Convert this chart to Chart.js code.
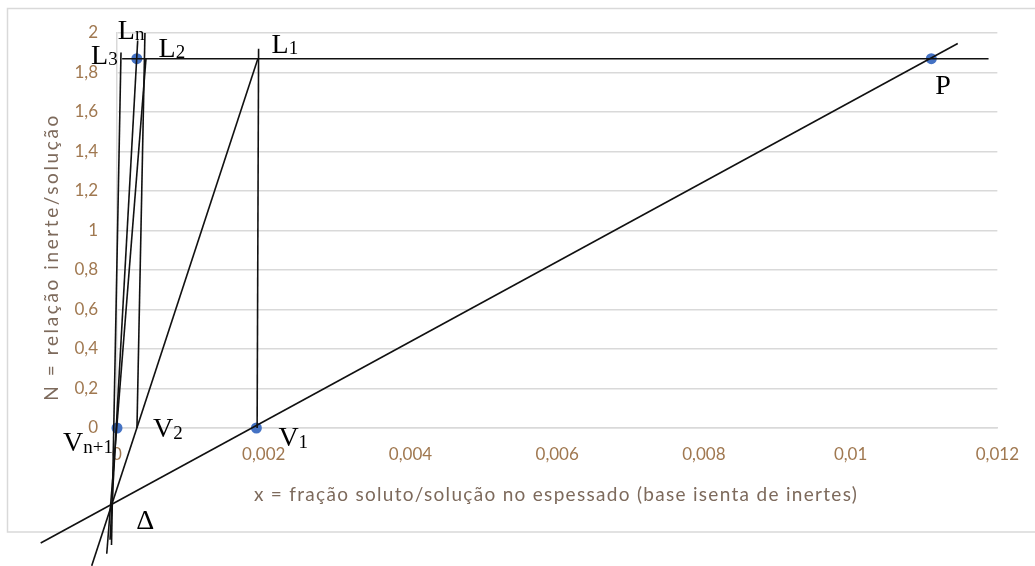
<!DOCTYPE html>
<html>
<head>
<meta charset="utf-8">
<script src="https://cdn.jsdelivr.net/npm/chart.js@4.4.1/dist/chart.umd.min.js"></script>
<style>
  html, body { margin: 0; padding: 0; background: #ffffff; }
  #wrap { width: 1035px; height: 566px; position: relative; }
</style>
</head>
<body>
<div id="wrap"><canvas id="chart" width="1035" height="566"></canvas></div>
<script>
// Axis ticks and their printed labels (decimal comma)
const xTicks = [0, 0.002, 0.004, 0.006, 0.008, 0.010, 0.012];
const xTickLabels = ['0', '0,002', '0,004', '0,006', '0,008', '0,01', '0,012'];
const yTicks = [0, 0.2, 0.4, 0.6, 0.8, 1.0, 1.2, 1.4, 1.6, 1.8, 2.0];
const yTickLabels = ['0', '0,2', '0,4', '0,6', '0,8', '1', '1,2', '1,4', '1,6', '1,8', '2'];

// Marked states: V(n+1), V1, Ln, P  (x = solute fraction, N = inert ratio)
const markX = [0, 0.0019, 0.00027, 0.0111];
const markN = [0, 0, 1.87, 1.87];

// Difference point (pole) where the operating lines meet
const deltaX = -0.000064;
const deltaN = -0.394;

// Construction lines, each as [start, end]
const underflowX = [0.00007, 0.01188];   // N = const. line of the underflow
const underflowN = [1.87, 1.87];
const feedLineX = [0.01146, -0.00104];   // P - V1 - Δ
const feedLineN = [1.947, -0.582];
const tie1X = [0.00191, 0.00193];        // V1 - L1
const tie1N = [0, 1.92];
const op1X = [0.00192, -0.000345];       // L1 - V2 - Δ
const op1N = [1.87, -0.698];
const tie2X = [0.000272, 0.000381];      // V2 - L2
const tie2N = [0, 2.0];
const op2X = [0.000395, -0.00014];       // L2 - Δ
const op2N = [1.87, -0.637];
const opNX = [0.000282, -0.000095];      // Ln - V(n+1) - Δ
const opNN = [1.962, -0.566];
const op3X = [0.0000545, -0.000075];     // L3 - Δ
const op3N = [1.901, -0.592];

const toPts = (xs, ns) => xs.map((x, i) => ({ x: x, y: ns[i] }));

const lineStyle = {
  showLine: true,
  borderColor: '#111111',
  borderWidth: 1.6,
  pointRadius: 0,
  pointHoverRadius: 0,
  fill: false,
  clip: false,
  order: 0
};

const lineSets = [
  [underflowX, underflowN], [feedLineX, feedLineN], [tie1X, tie1N], [op1X, op1N],
  [tie2X, tie2N], [op2X, op2N], [opNX, opNN], [op3X, op3N]
].map(([xs, ns]) => Object.assign({ data: toPts(xs, ns) }, lineStyle));

const markSet = {
  data: toPts(markX, markN),
  showLine: false,
  pointRadius: 5.5,
  pointHoverRadius: 5.5,
  pointBackgroundColor: '#4472c4',
  pointBorderColor: '#4472c4',
  pointBorderWidth: 0,
  clip: false,
  order: 1
};

// Letter labels: main letter, subscript, anchor in data units, pixel offset of the baseline start
const letterLabels = [
  { main: 'L', sub: '1',   x: 0.00193,  n: 1.87, dx: 13,  dy: -6 },
  { main: 'L', sub: '2',   x: 0.00039,  n: 1.87, dx: 13,  dy: -2 },
  { main: 'L', sub: '3',   x: 0.000055, n: 1.87, dx: -30, dy: 5 },
  { main: 'L', sub: 'n',   x: 0.00027,  n: 1.87, dx: -19, dy: -20 },
  { main: 'P', sub: '',    x: 0.0111,   n: 1.87, dx: 4,   dy: 35 },
  { main: 'V', sub: '1',   x: 0.0019,   n: 0,    dx: 22,  dy: 18 },
  { main: 'V', sub: '2',   x: 0.000272, n: 0,    dx: 16,  dy: 9 },
  { main: 'V', sub: 'n+1', x: 0,        n: 0,    dx: -54, dy: 23 },
  { main: '\u0394', sub: '', x: deltaX, n: deltaN, dx: 24, dy: 23 }
];

const xTitle = 'x = fração soluto/solução no espessado (base isenta de inertes)';
const yTitle = 'N = relação inerte/solução';

const framePlugin = {
  id: 'frame',
  beforeDraw(chart) {
    const ctx = chart.ctx;
    ctx.save();
    ctx.fillStyle = '#ffffff';
    ctx.fillRect(0, 0, chart.width, chart.height);
    ctx.strokeStyle = '#d9d9d9';
    ctx.lineWidth = 1.5;
    ctx.strokeRect(7.5, 8.5, 1040, 523.5);
    ctx.restore();
  }
};

const textPlugin = {
  id: 'texts',
  afterDraw(chart) {
    const ctx = chart.ctx;
    const xs = chart.scales.x, ys = chart.scales.y;
    ctx.save();
    // axis titles
    ctx.fillStyle = '#7d6a5c';
    ctx.font = '19px Lato';
    ctx.textAlign = 'center';
    ctx.textBaseline = 'middle';
    ctx.letterSpacing = '1.3px';
    ctx.fillText(xTitle, 556, 495);
    ctx.save();
    ctx.translate(52, 257);
    ctx.rotate(-Math.PI / 2);
    ctx.letterSpacing = '2.6px';
    ctx.fillText(yTitle, 0, 0);
    ctx.restore();
    ctx.letterSpacing = '0px';
    // letter labels with subscripts
    ctx.fillStyle = '#000000';
    ctx.textAlign = 'left';
    ctx.textBaseline = 'alphabetic';
    letterLabels.forEach(l => {
      const px = xs.getPixelForValue(l.x) + l.dx;
      const py = ys.getPixelForValue(l.n) + l.dy;
      ctx.font = '28px "Liberation Serif"';
      ctx.fillText(l.main, px, py);
      const w = ctx.measureText(l.main).width;
      if (l.sub) {
        ctx.font = '19px "Liberation Serif"';
        ctx.fillText(l.sub, px + w, py + 1.5);
      }
    });
    ctx.restore();
  }
};

const tickFont = { family: 'Lato', size: 17 };
const tickColor = '#a07850';

new Chart(document.getElementById('chart'), {
  type: 'scatter',
  data: { datasets: lineSets.concat([markSet]) },
  options: {
    responsive: false,
    animation: false,
    events: [],
    layout: { padding: { left: 0, right: 37, top: 33, bottom: 0 } },
    plugins: { legend: { display: false }, tooltip: { enabled: false } },
    scales: {
      x: {
        type: 'linear',
        min: 0,
        max: 0.012,
        afterBuildTicks: s => { s.ticks = xTicks.map(v => ({ value: v })); },
        afterFit: s => { s.height = 138; },
        grid: { display: false, drawTicks: false },
        border: { display: true, color: '#d9d9d9', width: 1.5 },
        ticks: {
          padding: 16,
          color: tickColor,
          font: tickFont,
          maxRotation: 0,
          autoSkip: false,
          callback: (v, i) => xTickLabels[i]
        }
      },
      y: {
        type: 'linear',
        min: 0,
        max: 2,
        afterBuildTicks: s => { s.ticks = yTicks.map(v => ({ value: v })); },
        afterFit: s => { s.width = 117; },
        grid: { color: '#d9d9d9', lineWidth: 1.5, drawTicks: false },
        border: { display: true, color: '#d9d9d9', width: 1.5 },
        ticks: {
          padding: 19,
          color: tickColor,
          font: tickFont,
          autoSkip: false,
          callback: (v, i) => yTickLabels[i]
        }
      }
    }
  },
  plugins: [framePlugin, textPlugin]
});
</script>
</body>
</html>
